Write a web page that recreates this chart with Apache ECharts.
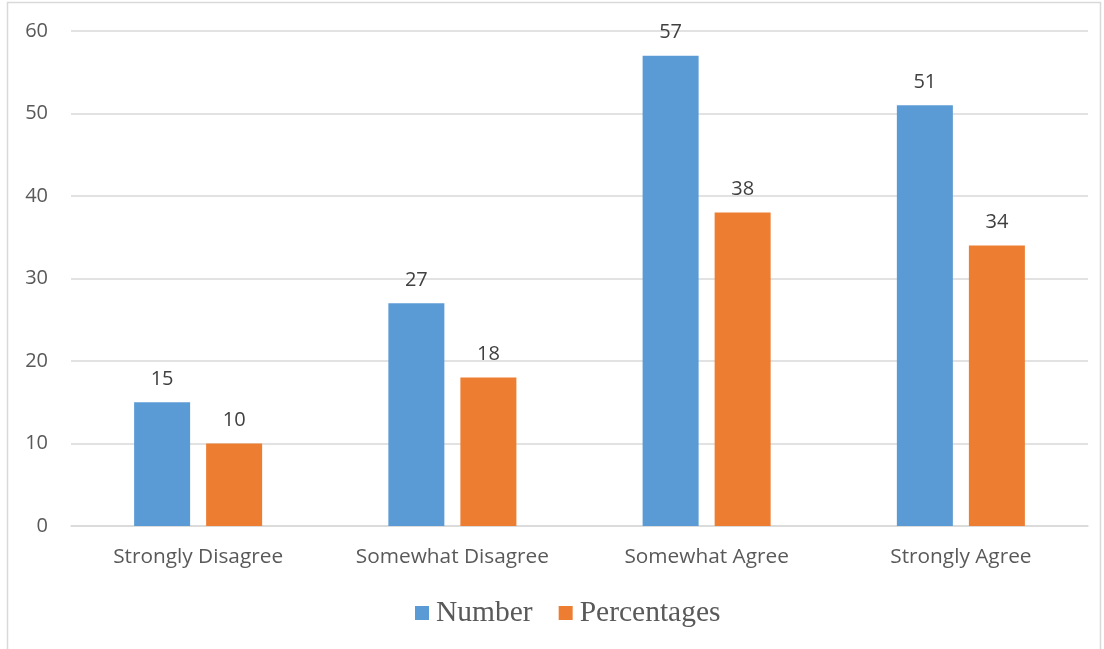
<!DOCTYPE html>
<html><head><meta charset="utf-8">
<script src="https://cdn.jsdelivr.net/npm/echarts@6/dist/echarts.min.js"></script>
<style>html,body{margin:0;padding:0;background:#fff}#c{width:1104px;height:649px}</style>
</head><body><div id="c"></div>
<script>
const categories = ['Strongly Disagree','Somewhat Disagree','Somewhat Agree','Strongly Agree'];
const numberValues = [15, 27, 57, 51];
const percentValues = [10, 18, 38, 34];
const seriesNames = ['Number','Percentages'];

const chart = echarts.init(document.getElementById('c'));
const labelStyle = {show:true, position:'top', distance:13, color:'#404040', fontFamily:'Open Sans', fontSize:20};
chart.setOption({
  animation:false,
  graphic:[{type:'rect', shape:{x:7.5,y:2.5,width:1093,height:660}, style:{fill:'none', stroke:'#d9d9d9', lineWidth:1.5}, silent:true}],
  grid:{left:71, right:16, top:31, bottom:123},
  legend:{top:593, left:410, itemWidth:14, itemHeight:14, itemGap:26,
    icon:'rect',
    textStyle:{fontFamily:'Liberation Serif', fontSize:29.5, color:'#595959', padding:[0,0,0,2]},
    data:seriesNames},
  xAxis:{type:'category', data:categories,
    axisLine:{lineStyle:{color:'#d9d9d9', width:1.5}}, axisTick:{show:false},
    axisLabel:{color:'#595959', fontFamily:'Open Sans', fontSize:20.8, margin:21}},
  yAxis:{type:'value', min:0, max:60, interval:10,
    axisLine:{show:false}, axisTick:{show:false},
    splitLine:{lineStyle:{color:'#d9d9d9', width:1.5}},
    axisLabel:{color:'#595959', fontFamily:'Open Sans', fontSize:20, margin:23}},
  series:[
    {name:seriesNames[0], type:'bar', data:numberValues, barWidth:56, barGap:'28.6%', itemStyle:{color:'#5b9bd5'}, label:labelStyle},
    {name:seriesNames[1], type:'bar', data:percentValues, barWidth:56, itemStyle:{color:'#ed7d31'}, label:labelStyle}
  ]
});
</script></body></html>
